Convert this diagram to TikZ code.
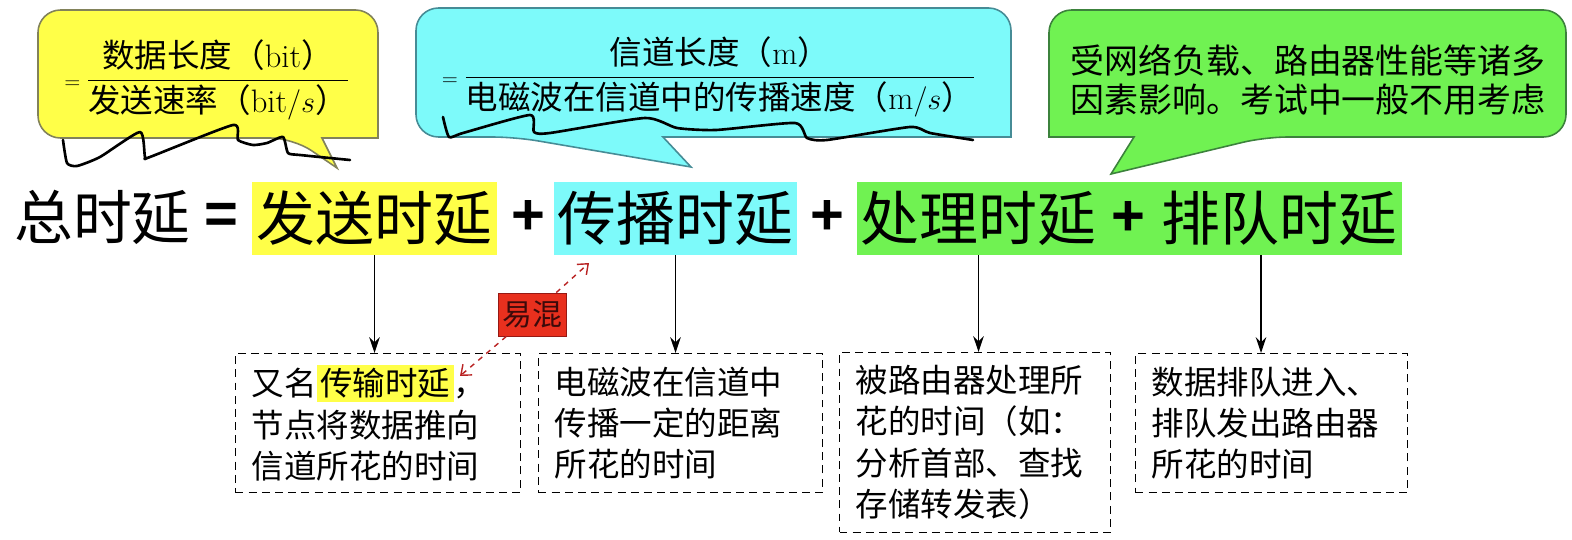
\documentclass[tikz,border=0pt]{standalone}
\usepackage{fontspec}
\usepackage{amsmath}
\newfontfamily\cjk{Noto Sans CJK SC}
\newfontfamily\opfont{Liberation Sans}
\usetikzlibrary{arrows.meta}
\definecolor{hlyellow}{RGB}{255,255,72}
\definecolor{hlcyan}{RGB}{125,250,250}
\definecolor{hlgreen}{RGB}{112,242,82}
\definecolor{yborder}{RGB}{130,130,90}
\definecolor{cborder}{RGB}{70,140,150}
\definecolor{gborder}{RGB}{60,130,60}
\definecolor{mixred}{RGB}{232,48,30}
\definecolor{mixdark}{RGB}{150,25,20}
\definecolor{mixline}{RGB}{185,35,35}
\setlength{\fboxsep}{2pt}

\begin{document}
\begin{tikzpicture}[x=0.02cm, y=-0.02cm,
  term/.style={minimum height=1.46cm, inner sep=0pt, font=\cjk\fontsize{33.5}{36}\selectfont},
  op/.style={inner sep=0pt, font=\opfont\bfseries\fontsize{33}{36}\selectfont},
  desc/.style={draw, dash pattern=on 4.5pt off 3pt, line width=0.6pt, anchor=north west,
    inner xsep=0.32cm, inner ysep=0pt, align=left, font=\cjk\fontsize{18.5}{23.5}\selectfont},
  bubble/.style={line width=0.9pt},
  formula/.style={inner sep=0pt, font=\fontsize{18.5}{22}\selectfont},
  scribble/.style={line width=1.5pt, line cap=round, line join=round},
  down/.style={-{Stealth[length=9pt,width=6pt]}, line width=0.7pt},
  mixarrow/.style={dashed, mixline, line width=0.8pt, -{Straight Barb[length=5pt,width=8pt]}}
]
  \useasboundingbox (0,0) rectangle (1572,540);

  % speech bubbles
  \draw[bubble, yborder, fill=hlyellow] (337,168) -- (322,138) -- (378,138) [rounded corners=0.45cm]
    -- (378,10) -- (38,10) -- (38,138) -- (293,138) [sharp corners] -- cycle;
  \draw[bubble, cborder, fill=hlcyan] (691,167) -- (663,137) -- (1011,137) [rounded corners=0.45cm]
    -- (1011,8) -- (416,8) -- (416,137) -- (515,137) [sharp corners] -- cycle;
  \draw[bubble, gborder, fill=hlgreen] (1111,174) -- (1134,137) -- (1049,137) [rounded corners=0.45cm]
    -- (1049,10) -- (1566,10) -- (1566,137) -- (1265,137) [sharp corners] -- cycle;

  \node[formula] (sendrate) at (207,80)
    {$\scriptstyle=\;\dfrac{\text{\cjk 数据长度（}\text{bit}\text{\cjk ）}}{\text{\cjk 发送速率（}\text{bit}/s\text{\cjk ）}}$};
  \node[formula] (propspeed) at (709,77)
    {$\scriptstyle=\;\dfrac{\text{\cjk 信道长度（}\text{m}\text{\cjk ）}}{\text{\cjk 电磁波在信道中的传播速度（}\text{m}/s\text{\cjk ）}}$};
  \node[align=center, inner sep=0pt, font=\cjk\fontsize{19.3}{22.2}\selectfont] (loadnote) at (1308,80)
    {受网络负载、路由器性能等诸多\\因素影响。考试中一般不用考虑};

  % hand-drawn marks
  \draw[scribble] plot[smooth, tension=0.35] coordinates {(63,140) (67,163) (77,166) (100,157) (140,132)
    (145,157) (150,157) (233,125) (238,140) (253,145) (267,143) (283,137) (288,153) (300,155) (350,160)};
  \draw[scribble] plot[smooth, tension=0.35] coordinates {(443,117) (449,137) (463,133) (530,115) (534,132)
    (550,133) (645,118) (677,128) (716,130) (795,123) (807,138) (827,140) (910,127) (930,133) (973,140)};

  % main formula
  \node[term] (total) at (102.5,217) {总时延};
  \node[op] (eq) at (221.5,218) {=};
  \node[term, fill=hlyellow, minimum width=4.9cm] (send) at (374.5,218.5) {发送时延};
  \node[op] (plusa) at (528,218) {+};
  \node[term, fill=hlcyan, minimum width=4.86cm] (prop) at (675.5,218.5) {传播时延};
  \node[op] (plusb) at (827,218) {+};
  \node[term, fill=hlgreen, minimum width=4.86cm] (proc) at (978.5,218.5) {处理时延};
  \node[op, fill=hlgreen, minimum width=1.14cm, minimum height=1.46cm] (plusc) at (1128.5,218.5) {+};
  \node[term, fill=hlgreen, minimum width=4.9cm] (queue) at (1279.5,218.5) {排队时延};

  % explanations
  \node[desc, text width=5.06cm, minimum height=2.78cm] (senddesc) at (235,353)
    {又名\colorbox{hlyellow}{传输时延}，\\节点将数据推向\\信道所花的时间};
  \node[desc, text width=5.04cm, minimum height=2.78cm] (propdesc) at (538,353)
    {电磁波在信道中\\传播一定的距离\\所花的时间};
  \node[desc, text width=4.78cm, minimum height=3.6cm] (procdesc) at (839,352)
    {被路由器处理所\\花的时间（如：\\分析首部、查找\\存储转发表）};
  \node[desc, text width=4.8cm, minimum height=2.78cm] (queuedesc) at (1135,353)
    {数据排队进入、\\排队发出路由器\\所花的时间};

  \draw[down] (send.south) -- (send.south |- senddesc.north);
  \draw[down] (prop.south) -- (prop.south |- propdesc.north);
  \draw[down] (proc.south) -- (proc.south |- procdesc.north);
  \draw[down] ([xshift=-0.37cm]queue.south) -- ([xshift=-0.37cm]queue.south |- queuedesc.north);

  % easily confused
  \node[fill=mixred, draw=mixdark, line width=0.5pt, minimum width=1.36cm, minimum height=0.86cm,
    inner sep=0pt, text={rgb,255:red,60;green,10;blue,10}, font=\cjk\fontsize{17}{20}\selectfont] (mix) at (532,314.5) {易混};
  \coordinate (mixtip) at (589,263);
  \coordinate (mixend) at (460,376);
  \draw[mixarrow] (mix) -- (mixtip);
  \draw[mixarrow] (mix) -- (mixend);
\end{tikzpicture}
\end{document}
